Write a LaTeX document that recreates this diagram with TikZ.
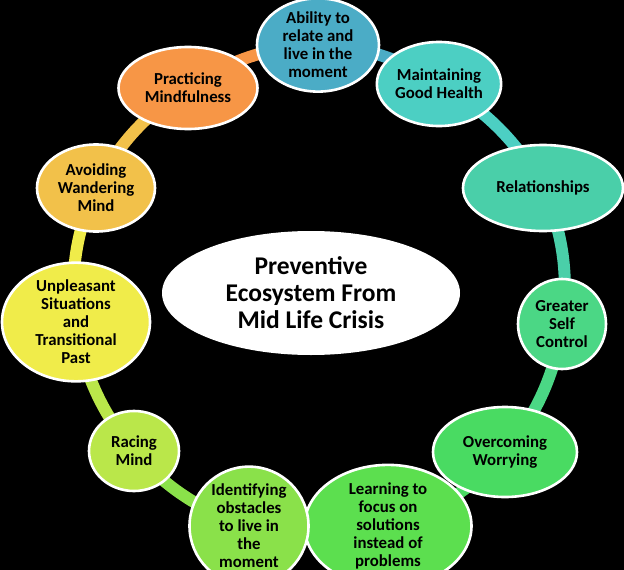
\documentclass[tikz,border=0pt]{standalone}
\usepackage{fontspec}
\setmainfont{Carlito}
\usetikzlibrary{shapes.geometric,backgrounds}
\definecolor{abilityc}{HTML}{4BACC6}
\definecolor{healthc}{HTML}{4CCFC3}
\definecolor{relatc}{HTML}{4ACFA9}
\definecolor{selfc}{HTML}{4BD785}
\definecolor{worryc}{HTML}{49DB62}
\definecolor{learnc}{HTML}{5CDF4F}
\definecolor{obstc}{HTML}{8AE14A}
\definecolor{racingc}{HTML}{BAE74A}
\definecolor{unplc}{HTML}{F0EC4A}
\definecolor{wandc}{HTML}{F2C14A}
\definecolor{mindc}{HTML}{F79646}
\begin{document}
\begin{tikzpicture}[x=1pt,y=1pt,
 bubble/.style={ellipse,draw=white,line width=2.6pt,inner sep=0pt,align=center,
  font=\fontsize{16.8}{18}\selectfont\bfseries},
 ring/.style={line width=12pt,bend left=16.4,looseness=0.9}]
\useasboundingbox (0,0) rectangle (624,-570);
\clip (0,0) rectangle (624,-570);
\node[bubble,fill=abilityc,minimum width=122,minimum height=86] (ab) at (318,-45) {Ability to\\relate and\\live in the\\moment};
\node[bubble,fill=healthc,minimum width=114,minimum height=84] (mh) at (439,-84) {Maintaining\\Good Health};
\node[bubble,fill=relatc,minimum width=160,minimum height=86] (re) at (543,-188) {Relationships};
\node[bubble,fill=selfc,minimum width=88,minimum height=90] (sc) at (562,-324) {Greater\\Self\\Control};
\node[bubble,fill=worryc,minimum width=144,minimum height=90] (ow) at (505,-452) {Overcoming\\Worrying};
\node[bubble,fill=learnc,minimum width=167,minimum height=86] (lf) at (388,-526) {Learning to\\focus on\\solutions\\instead of\\problems};
\node[bubble,fill=obstc,minimum width=119,minimum height=86] (io) at (249,-526) {Identifying\\obstacles\\to live in\\the\\moment};
\node[bubble,fill=racingc,minimum width=90,minimum height=80] (rm) at (134,-451) {Racing\\Mind};
\node[bubble,fill=unplc,minimum width=148,minimum height=84] (us) at (76,-322) {Unpleasant\\Situations\\and\\Transitional\\Past};
\node[bubble,fill=wandc,minimum width=118,minimum height=87] (aw) at (96,-188) {Avoiding\\Wandering\\Mind};
\node[bubble,fill=mindc,minimum width=139,minimum height=82] (pm) at (188,-88) {Practicing\\Mindfulness};
\node[ellipse,fill=white,inner sep=0pt,minimum width=298,minimum height=124,align=center,
 font=\fontsize{25.5}{27}\selectfont\bfseries] (hub) at (311,-293) {Preventive\\Ecosystem From\\Mid Life Crisis};
\begin{scope}[on background layer]
\fill[black] (0,0) rectangle (624,-570);
\draw[ring,abilityc] (ab.center) to (mh.center);
\draw[ring,healthc] (mh.center) to (re.center);
\draw[ring,relatc] (re.center) to (sc.center);
\draw[ring,selfc] (sc.center) to (ow.center);
\draw[ring,worryc] (ow.center) to (lf.center);
\draw[ring,learnc] (lf.center) to (io.center);
\draw[ring,obstc] (io.center) to (rm.center);
\draw[ring,racingc] (rm.center) to (us.center);
\draw[ring,unplc] (us.center) to (aw.center);
\draw[ring,wandc] (aw.center) to (pm.center);
\draw[ring,mindc] (pm.center) to (ab.center);
\end{scope}
\end{tikzpicture}
\end{document}
